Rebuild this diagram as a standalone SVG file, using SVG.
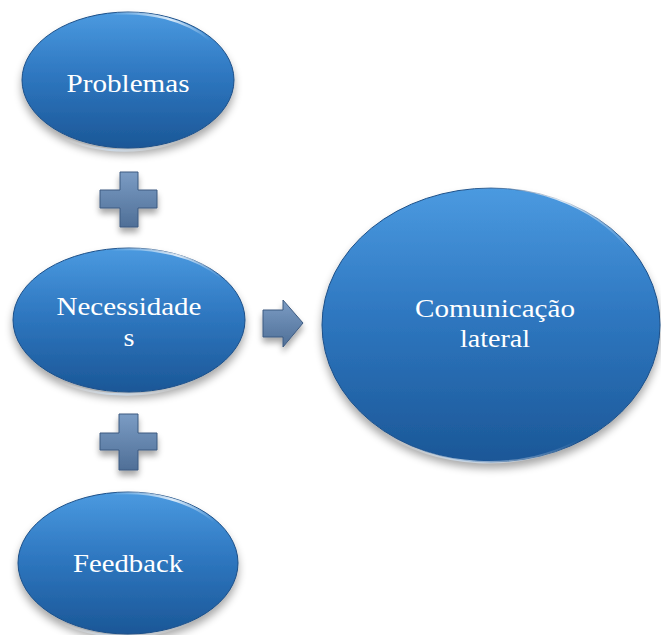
<svg xmlns="http://www.w3.org/2000/svg" width="661" height="635" viewBox="0 0 661 635">
  <defs>
    <linearGradient id="blueFill" x1="0" y1="0" x2="0" y2="1">
      <stop offset="0" stop-color="#4b9ae0"/>
      <stop offset="0.45" stop-color="#2f78c1"/>
      <stop offset="1" stop-color="#1b5797"/>
    </linearGradient>
    <linearGradient id="slateFill" x1="0" y1="0" x2="0" y2="1">
      <stop offset="0" stop-color="#7b9cc4"/>
      <stop offset="1" stop-color="#4f6f97"/>
    </linearGradient>
    <linearGradient id="rimTop" x1="0" y1="0" x2="1" y2="0">
      <stop offset="0" stop-color="#ffffff" stop-opacity="0"/>
      <stop offset="0.6" stop-color="#ffffff" stop-opacity="0.8"/>
      <stop offset="1" stop-color="#ffffff" stop-opacity="0"/>
    </linearGradient>
    <linearGradient id="rimBottom" x1="0" y1="0" x2="1" y2="0">
      <stop offset="0" stop-color="#ffffff" stop-opacity="0"/>
      <stop offset="0.4" stop-color="#cfe3f7" stop-opacity="0.7"/>
      <stop offset="1" stop-color="#ffffff" stop-opacity="0"/>
    </linearGradient>
    <filter id="shadow" x="-20%" y="-20%" width="140%" height="150%">
      <feGaussianBlur in="SourceAlpha" stdDeviation="4"/>
      <feOffset dx="0" dy="6" result="b"/>
      <feComponentTransfer><feFuncA type="linear" slope="0.35"/></feComponentTransfer>
      <feMerge><feMergeNode/><feMergeNode in="SourceGraphic"/></feMerge>
    </filter>
    <filter id="smallShadow" x="-30%" y="-30%" width="160%" height="170%">
      <feGaussianBlur in="SourceAlpha" stdDeviation="3"/>
      <feOffset dx="0" dy="5" result="b"/>
      <feComponentTransfer><feFuncA type="linear" slope="0.35"/></feComponentTransfer>
      <feMerge><feMergeNode/><feMergeNode in="SourceGraphic"/></feMerge>
    </filter>
  </defs>
  <style>
    .orb { fill: url(#blueFill); stroke: #1b4f88; stroke-width: 1; filter: url(#shadow); }
    .rim-top { fill: none; stroke: url(#rimTop); stroke-width: 2.5; }
    .rim-bot { fill: none; stroke: url(#rimBottom); stroke-width: 2.5; }
    .label { font-family: 'Liberation Serif', 'DejaVu Serif', serif; font-size: 26px; fill: #ffffff; text-anchor: middle; }
    .sym { fill: url(#slateFill); stroke: #3d5a80; stroke-width: 1; filter: url(#smallShadow); }
  </style>

  <!-- source nodes -->
  <g id="problemas">
    <ellipse class="orb" cx="128" cy="80" rx="106" ry="68"/>
    <path class="rim-top" d="M 110 14 A 104 66 0 0 1 210 40"/>
    <path class="rim-bot" d="M 60 136 A 104 66 0 0 0 190 136"/>
    <text class="label" x="128" y="92" textLength="123" lengthAdjust="spacingAndGlyphs">Problemas</text>
  </g>

  <g id="necessidades">
    <ellipse class="orb" cx="129" cy="320" rx="116" ry="72"/>
    <path class="rim-top" d="M 110 250 A 114 70 0 0 1 222 278"/>
    <path class="rim-bot" d="M 55 379 A 114 70 0 0 0 200 378"/>
    <text class="label" x="129" y="315" textLength="145" lengthAdjust="spacingAndGlyphs">Necessidade</text>
    <text class="label" x="129" y="346" textLength="11" lengthAdjust="spacingAndGlyphs">s</text>
  </g>

  <g id="feedback">
    <ellipse class="orb" cx="128" cy="563" rx="110" ry="71"/>
    <path class="rim-top" d="M 110 494 A 108 69 0 0 1 215 522"/>
    <path class="rim-bot" d="M 58 621 A 108 69 0 0 0 195 620"/>
    <text class="label" x="128" y="572" textLength="110" lengthAdjust="spacingAndGlyphs">Feedback</text>
  </g>

  <!-- result node -->
  <g id="comunicacao">
    <ellipse class="orb" cx="491" cy="325" rx="169" ry="137"/>
    <path class="rim-top" d="M 460 189 A 167 135 0 0 1 630 250"/>
    <path class="rim-bot" d="M 380 430 A 167 135 0 0 0 580 440"/>
    <text class="label" x="495" y="317" textLength="160" lengthAdjust="spacingAndGlyphs">Comunicação</text>
    <text class="label" x="495" y="347" textLength="70" lengthAdjust="spacingAndGlyphs">lateral</text>
  </g>

  <!-- operators between nodes -->
  <g id="connectors">
    <path class="sym" d="M 120 172 H 138 V 190 H 157 V 208 H 138 V 227 H 120 V 208 H 100 V 190 H 120 Z"/>
    <path class="sym" d="M 119 414 H 138 V 433 H 157 V 450 H 138 V 470 H 119 V 450 H 100 V 433 H 119 Z"/>
    <path class="sym" d="M 263 310 H 283 V 300 L 303 323 L 283 347 V 337 H 263 Z"/>
  </g>
</svg>
